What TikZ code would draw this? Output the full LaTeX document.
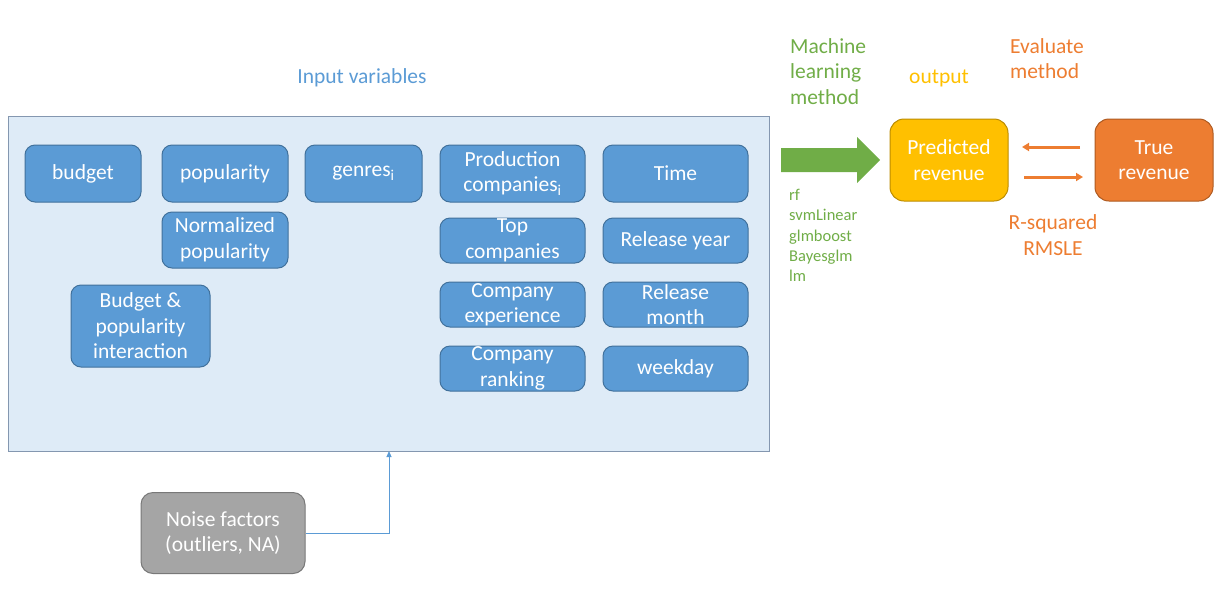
\documentclass[tikz,border=0pt]{standalone}
\usepackage{fontspec}
\setmainfont{Carlito}
\usetikzlibrary{arrows.meta}
\definecolor{bblue}{HTML}{5B9BD5}
\definecolor{bblueD}{HTML}{41719C}
\definecolor{panel}{HTML}{DEEBF7}
\definecolor{panelB}{HTML}{8497B0}
\definecolor{ggreen}{HTML}{70AD47}
\definecolor{oorange}{HTML}{ED7D31}
\definecolor{oorangeD}{HTML}{AE5A21}
\definecolor{yyellow}{HTML}{FFC000}
\definecolor{yyellowD}{HTML}{BC8C00}
\definecolor{ggray}{HTML}{A5A5A5}
\definecolor{ggrayD}{HTML}{787878}
\tikzset{
  bigfont/.style={font=\fontsize{21.5}{25.5}\selectfont},
  smallfont/.style={font=\fontsize{16.5}{20.25}\selectfont},
  varbox/.style={draw=bblueD, fill=bblue, text=white, rounded corners=10pt, line width=1pt,
    inner sep=0pt, align=center, bigfont},
  outbox/.style={rounded corners=14pt, line width=1pt, inner sep=0pt, align=center, text=white,
    bigfont, minimum width=118pt, minimum height=82pt},
  lbl/.style={inner sep=0pt, align=left, bigfont},
}
\begin{document}
\begin{tikzpicture}[x=1pt,y=-1pt]
\useasboundingbox (0,0) rectangle (1224,590);
% panel
\node[draw=panelB, fill=panel, line width=1pt, minimum width=761pt, minimum height=335pt, inner sep=0pt] (inputs) at (388.5,283.5) {};
\node[lbl, text=bblue] (inputlbl) at (362,78) {Input variables};
% variable boxes
\node[varbox, minimum width=116pt, minimum height=57pt] (budget) at (83,173.5) {budget};
\node[varbox, minimum width=126pt, minimum height=57pt] (pop) at (225,173.5) {popularity};
\node[varbox, minimum width=117pt, minimum height=57pt] (genres) at (363.5,173.5) {genres\textsubscript{i}};
\node[varbox, minimum width=126pt, minimum height=56pt] (npop) at (225,240) {Normalized\\popularity};
\node[varbox, minimum width=139pt, minimum height=82pt] (inter) at (140.5,326) {Budget \&\\popularity\\interaction};
\node[varbox, minimum width=145pt, minimum height=57pt] (prod) at (512.5,173.5) {Production\\companies\textsubscript{i}};
\node[varbox, minimum width=145pt, minimum height=57pt] (time) at (675.5,173.5) {Time};
\node[varbox, minimum width=145pt, minimum height=45pt] (top) at (512.5,240.5) {Top\\companies};
\node[varbox, minimum width=145pt, minimum height=45pt] (ryear) at (675.5,240.5) {Release year};
\node[varbox, minimum width=145pt, minimum height=45pt] (cexp) at (512.5,304.5) {Company\\experience};
\node[varbox, minimum width=145pt, minimum height=45pt] (rmonth) at (675.5,304.5) {Release\\month};
\node[varbox, minimum width=145pt, minimum height=45pt] (crank) at (512.5,368.5) {Company\\ranking};
\node[varbox, minimum width=145pt, minimum height=45pt] (wday) at (675.5,368.5) {weekday};
% noise
\node[draw=ggrayD, fill=ggray, text=white, rounded corners=12pt, line width=1pt, inner sep=0pt,
  align=center, bigfont, minimum width=164pt, minimum height=81pt] (noise) at (223,533) {Noise factors\\(outliers, NA)};
\coordinate (noisein) at (389,451);
\draw[bblue, line width=1pt, -{Triangle[length=6pt,width=5pt]}] (noise.east) -| (noisein);
% ML method
\node[lbl, text=ggreen, anchor=north west] (mllbl) at (790,38) {Machine\\learning\\method};
\node[inner sep=0pt, align=left, smallfont, text=ggreen, anchor=north west] (mlist) at (789,189) {rf\\svmLinear\\glmboost\\Bayesglm\\lm};
\fill[ggreen] (781,148) -- (857,148) -- (857,137) -- (880,160) -- (857,183) -- (857,172) -- (781,172) -- cycle;
% outputs
\node[outbox, draw=yyellowD, fill=yyellow] (pred) at (949,160) {Predicted\\revenue};
\node[outbox, draw=oorangeD, fill=oorange] (true) at (1154,160) {True\\revenue};
\node[lbl, text=yyellow] (outlbl) at (939,78) {output};
\node[lbl, text=oorange, anchor=north west] (evlbl) at (1010,38) {Evaluate\\method};
\node[inner sep=0pt, align=center, bigfont, text=oorange] (metrics) at (1053,235) {R-squared\\RMSLE};
\coordinate (a1s) at (1080,147);
\coordinate (a1e) at (1022,147);
\coordinate (a2s) at (1024,177);
\coordinate (a2e) at (1083,177);
\draw[oorange, line width=3pt, -{Triangle[length=7pt,width=8pt]}] (a1s) -- (a1e);
\draw[oorange, line width=3pt, -{Triangle[length=7pt,width=8pt]}] (a2s) -- (a2e);
\end{tikzpicture}
\end{document}
